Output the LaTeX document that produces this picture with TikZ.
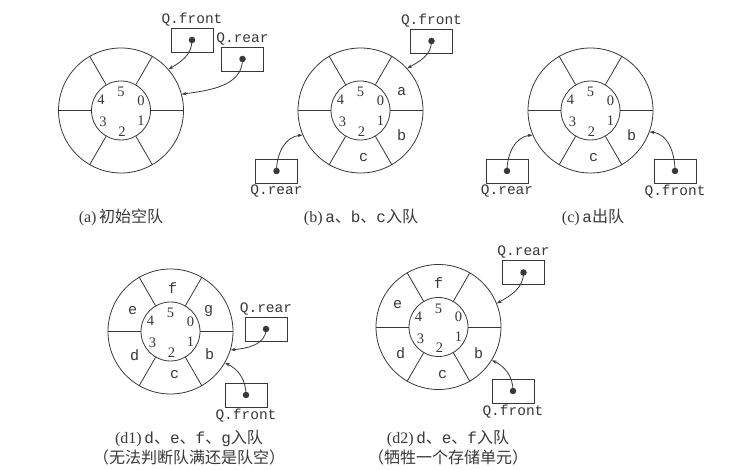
\documentclass[tikz,border=0pt]{standalone}
\usepackage{fontspec}
\setmainfont{Liberation Serif}
\setmonofont{Liberation Mono}
\newfontfamily\cjk{Noto Sans CJK SC}
\usetikzlibrary{arrows.meta,calc}
\definecolor{ink}{HTML}{383838}
\newcommand\qring[3]{%
  \node[outer] (#1) at (#2,-#3) {};
  \node[inner] (#1i) at (#2,-#3) {};
  \foreach \ang in {0,60,...,300} {\draw[ink,line width=0.8pt] (#1i.\ang) -- (#1.\ang);}
  \node[num] (#1n0) at ($(#1.center)+(20,10)$) {0};
  \node[num] (#1n5) at ($(#1.center)+(0,18.5)$) {5};
  \node[num] (#1n4) at ($(#1.center)+(-20,10.5)$) {4};
  \node[num] (#1n3) at ($(#1.center)+(-18,-11.5)$) {3};
  \node[num] (#1n2) at ($(#1.center)+(1,-21)$) {2};
  \node[num] (#1n1) at ($(#1.center)+(20,-10)$) {1};
}
% element in slot: ring, slot-offset, letter
\newcommand\qelem[4]{\node[elem] (#1e#4) at ($(#1.center)+(#2,#3)$) {#4};}
% pointer box: name, x, y, label text, label side
\newcommand\qptr[5]{%
  \node[ptrbox,label={[lbl]#5:#4}] (#1) at (#2,-#3) {};
  \node[dot] (#1d) at (#1.center) {};
}
\begin{document}
\begin{tikzpicture}[x=1pt,y=1pt,
  outer/.style={circle,draw=ink,line width=0.8pt,minimum size=125pt,inner sep=0pt},
  inner/.style={circle,draw=ink,line width=0.8pt,minimum size=59pt,inner sep=0pt},
  num/.style={font=\fontsize{14.5}{14.5}\selectfont,text=ink,inner sep=0pt},
  elem/.style={font=\fontsize{15}{15}\selectfont\ttfamily,text=ink,inner sep=0pt},
  ptrbox/.style={draw=ink,line width=0.8pt,minimum width=42pt,minimum height=24pt,inner sep=0pt},
  dot/.style={circle,fill=ink,minimum size=6.5pt,inner sep=0pt},
  ptr/.style={draw=ink,line width=0.8pt,-{Stealth[length=5pt,width=3.5pt]}},
  lbl/.style={font=\fontsize{14.5}{14.5}\selectfont\ttfamily,text=ink,inner sep=1.5pt,label distance=0pt},
  captext/.style={font=\fontsize{16}{20}\selectfont,text=ink,align=center,inner sep=0pt}
]
\useasboundingbox[fill=white] (0,0) rectangle (750,-470);

% (a)
\qring{A}{121}{110.5}
\qptr{Af}{192}{40}{Q.front}{above}
\qptr{Ar}{242.5}{59}{Q.rear}{above}
\draw[ptr] (Afd.center) to[out=-90,in=30] (A.41);
\draw[ptr] (Ard.center) to[out=-90,in=8] (A.15);
\node[captext] (Acap) at (121,-217) {(a)\,{\cjk 初始空队}};

% (b)
\qring{B}{360.5}{110.5}
\qelem{B}{41}{19}{a}
\qelem{B}{41}{-25}{b}
\qelem{B}{3}{-47}{c}
\qptr{Bf}{431.5}{41}{Q.front}{above}
\qptr{Br}{276.5}{171}{Q.rear}{below}
\draw[ptr] (Bfd.center) to[out=-90,in=30] (B.42);
\draw[ptr] (Brd.center) to[out=90,in=185] (B.203);
\node[captext] (Bcap) at (361,-217) {(b)\,{\ttfamily a}{\cjk 、}{\ttfamily b}{\cjk 、}{\ttfamily c}{\cjk 入队}};

% (c)
\qring{C}{590.5}{110.5}
\qelem{C}{41}{-25}{b}
\qelem{C}{3}{-47}{c}
\qptr{Cr}{507}{171}{Q.rear}{below}
\qptr{Cf}{675}{171}{Q.front}{below}
\draw[ptr] (Crd.center) to[out=90,in=185] (C.203);
\draw[ptr] (Cfd.center) to[out=90,in=-5] (C.340);
\node[captext] (Ccap) at (593,-217) {(c)\,{\ttfamily a}{\cjk 出队}};

% (d1)
\qring{D}{170.5}{331.5}
\qelem{D}{2}{43}{f}
\qelem{D}{-38}{21}{e}
\qelem{D}{38}{20}{g}
\qelem{D}{-36}{-24}{d}
\qelem{D}{39}{-23}{b}
\qelem{D}{4}{-43}{c}
\qptr{Dr}{266}{329}{Q.rear}{above}
\qptr{Df}{246}{395}{Q.front}{below}
\draw[ptr] (Drd.center) to[out=-90,in=5] (D.343);
\draw[ptr] (Dfd.center) to[out=90,in=-25] (D.330);
\node[captext] (Dcap) at (189,-448) {(d1)\,{\ttfamily d}{\cjk 、}{\ttfamily e}{\cjk 、}{\ttfamily f}{\cjk 、}{\ttfamily g}{\cjk 入队}\\{\cjk （无法判断队满还是队空）}};

% (d2)
\qring{E}{438.5}{327}
\qelem{E}{0}{44}{f}
\qelem{E}{-41}{22}{e}
\qelem{E}{-38}{-26}{d}
\qelem{E}{40}{-26}{b}
\qelem{E}{4}{-48}{c}
\qptr{Er}{523.5}{272.5}{Q.rear}{above}
\qptr{Ef}{513}{391}{Q.front}{below}
\draw[ptr] (Erd.center) to[out=-90,in=30] (E.22);
\draw[ptr] (Efd.center) to[out=90,in=-25] (E.328);
\node[captext] (Ecap) at (448,-448) {(d2)\,{\ttfamily d}{\cjk 、}{\ttfamily e}{\cjk 、}{\ttfamily f}{\cjk 入队}\\{\cjk （牺牲一个存储单元）}};
\end{tikzpicture}
\end{document}
